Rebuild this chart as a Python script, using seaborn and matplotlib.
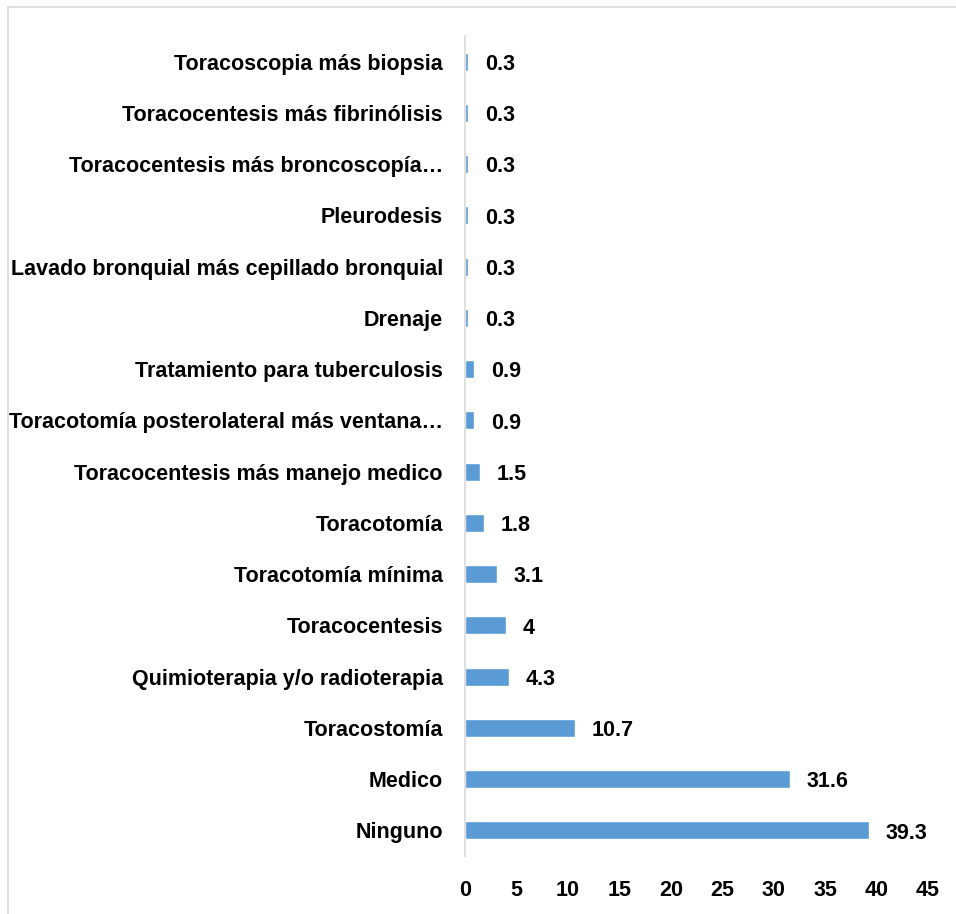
import matplotlib
matplotlib.use("Agg")
import matplotlib.pyplot as plt
import seaborn as sns
import pandas as pd

categorias = [
    "Toracoscopia más biopsia",
    "Toracocentesis más fibrinólisis",
    "Toracocentesis más broncoscopía…",
    "Pleurodesis",
    "Lavado bronquial más cepillado bronquial",
    "Drenaje",
    "Tratamiento para tuberculosis",
    "Toracotomía posterolateral más ventana…",
    "Toracocentesis más manejo medico",
    "Toracotomía",
    "Toracotomía mínima",
    "Toracocentesis",
    "Quimioterapia y/o radioterapia",
    "Toracostomía",
    "Medico",
    "Ninguno",
]
valores = [0.3, 0.3, 0.3, 0.3, 0.3, 0.3, 0.9, 0.9, 1.5, 1.8, 3.1, 4, 4.3, 10.7, 31.6, 39.3]
etiquetas = ["0.3", "0.3", "0.3", "0.3", "0.3", "0.3", "0.9", "0.9", "1.5", "1.8",
             "3.1", "4", "4.3", "10.7", "31.6", "39.3"]

df = pd.DataFrame({"cat": categorias, "val": valores})

sns.set_style("white")
plt.rcParams['font.family'] = ['Liberation Sans', 'DejaVu Sans']
plt.rcParams['text.color'] = 'black'

fig = plt.figure(figsize=(9.56, 9.14), dpi=100)
ax = fig.add_axes([0.4864, 0.0635, 0.4843, 0.897])

sns.barplot(data=df, x="val", y="cat", orient="h", color="#5B9BD5",
            saturation=1, width=0.35, ax=ax)

ax.set_xlim(0, 45)
ax.set_xticks(range(0, 50, 5))
ax.set_ylim(len(categorias) - 0.5, -0.5)
ax.set_xlabel("")
ax.set_ylabel("")

for s in ["top", "right", "bottom"]:
    ax.spines[s].set_visible(False)
ax.spines["left"].set_color("#D9D9D9")
ax.spines["left"].set_linewidth(1.2)

ax.tick_params(axis="both", length=0, labelsize=15.5, labelcolor="black")
ax.tick_params(axis="y", pad=16)
ax.tick_params(axis="x", pad=17)
for t in ax.get_xticklabels() + ax.get_yticklabels():
    t.set_fontweight("bold")

for container in ax.containers:
    textos = ax.bar_label(container, labels=etiquetas, padding=12, fontsize=15.5,
                          fontweight="bold", color="black")
    for t in textos:
        t.xyann = (t.xyann[0], t.xyann[1] - 2)

# marco del gráfico
fig.patches.append(plt.Rectangle((0.008, -0.01), 1.1, 1.002, transform=fig.transFigure,
                                 fill=False, edgecolor="#D9D9D9", linewidth=1.2))

fig.savefig("out.png", dpi=100)
